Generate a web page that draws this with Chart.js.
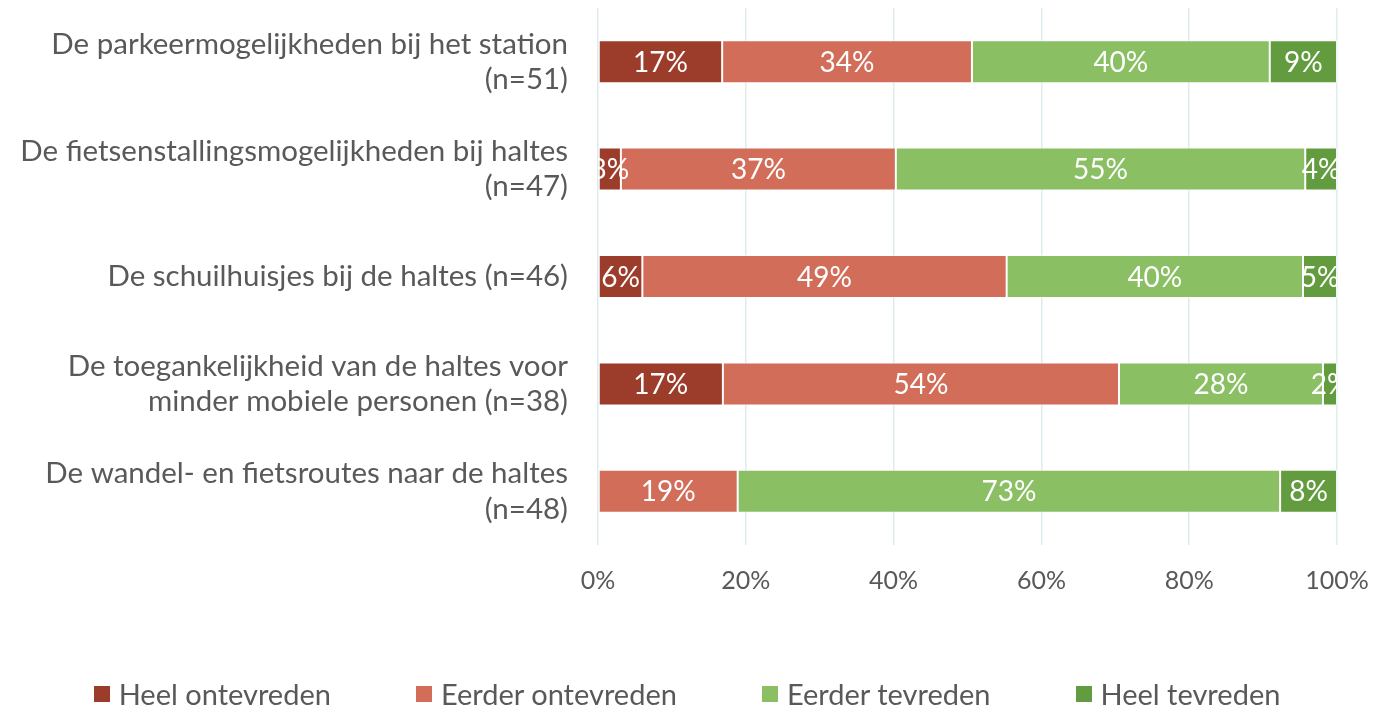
<!DOCTYPE html>
<html lang="nl">
<head>
  <meta charset="UTF-8" />
  <title>Tevredenheid haltes</title>
  <script src="https://cdn.jsdelivr.net/npm/chart.js"></script>
  <style>
    html, body { margin: 0; padding: 0; background: #fff; }
    #wrap { width: 1374px; height: 708px; position: relative; overflow: hidden; }
    #legenda {
      position: absolute;
      left: 0;
      right: 0;
      top: 676px;
      display: flex;
      justify-content: center;
      gap: 85px;
      font-family: Lato, "Open Sans", sans-serif;
      font-size: 29px;
      color: #595959;
      line-height: 36px;
    }
    #legenda span.item { display: flex; align-items: center; }
    #legenda i { display: inline-block; width: 16px; height: 16px; margin-right: 9px; }
  </style>
</head>
<body>
  <div id="wrap">
    <canvas id="grafiek" width="1374" height="708"></canvas>
    <div id="legenda"></div>
  </div>

  <script>
    const categorieen = [
      ['De parkeermogelijkheden bij het station', '(n=51)'],
      ['De fietsenstallingsmogelijkheden bij haltes', '(n=47)'],
      ['De schuilhuisjes bij de haltes (n=46)'],
      ['De toegankelijkheid van de haltes voor', 'minder mobiele personen (n=38)'],
      ['De wandel- en fietsroutes naar de haltes', '(n=48)']
    ];
    const reeksNamen = ['Heel ontevreden', 'Eerder ontevreden', 'Eerder tevreden', 'Heel tevreden'];
    const heelOntevreden   = [16.8, 3.1, 6.0, 16.9, 0];
    const eerderOntevreden = [33.8, 37.2, 49.3, 53.6, 18.9];
    const eerderTevreden   = [40.3, 55.4, 40.1, 27.6, 73.4];
    const heelTevreden     = [9.1, 4.3, 4.6, 1.9, 7.7];
    const asTicks = [0, 20, 40, 60, 80, 100];
    const kleuren = ['#9C3C2B', '#D26D5A', '#8ABF63', '#629C3F'];

    const FONT = 'Lato, "Open Sans", sans-serif';
    const GRIJS = '#595959';

    // witte percentages in de balken, geknipt op het plotgebied
    const labelsPlugin = {
      id: 'balkLabels',
      afterDatasetsDraw(chart) {
        const ctx = chart.ctx;
        const area = chart.chartArea;
        ctx.save();
        ctx.beginPath();
        ctx.rect(area.left, area.top, area.right - area.left, area.bottom - area.top);
        ctx.clip();
        ctx.fillStyle = '#fff';
        ctx.font = '28px ' + FONT;
        ctx.textAlign = 'center';
        ctx.textBaseline = 'middle';
        chart.data.datasets.forEach((ds, i) => {
          const meta = chart.getDatasetMeta(i);
          meta.data.forEach((bar, j) => {
            const v = ds.data[j];
            if (!v) return;
            const x = (bar.x + bar.base) / 2;
            ctx.fillText(Math.round(v) + '%', x, bar.y + 1);
          });
        });
        ctx.restore();
      }
    };

    const reeks = (label, data, kleur) => ({
      label: label,
      data: data,
      backgroundColor: kleur,
      borderColor: 'rgba(255,255,255,0.5)',
      borderWidth: 1,
      borderSkipped: false,
      categoryPercentage: 0.8,
      barPercentage: 0.5
    });

    const grafiek = new Chart(document.getElementById('grafiek'), {
      type: 'bar',
      data: {
        labels: categorieen,
        datasets: [
          reeks(reeksNamen[0], heelOntevreden, kleuren[0]),
          reeks(reeksNamen[1], eerderOntevreden, kleuren[1]),
          reeks(reeksNamen[2], eerderTevreden, kleuren[2]),
          reeks(reeksNamen[3], heelTevreden, kleuren[3])
        ]
      },
      options: {
        indexAxis: 'y',
        responsive: false,
        animation: false,
        devicePixelRatio: 1,
        layout: { padding: { top: 8, right: 37, left: 0, bottom: 109 } },
        scales: {
          x: {
            stacked: true,
            min: 0,
            max: 100,
            afterBuildTicks(axis) {
              axis.ticks = asTicks.map(v => ({ value: v }));
            },
            afterFit(axis) {
              axis.height = 54;
              axis.paddingLeft = 0;
              axis.paddingRight = 0;
            },
            ticks: {
              color: GRIJS,
              font: { family: FONT, size: 25 },
              padding: 21,
              callback: v => v + '%'
            },
            grid: { color: '#DDECEE', lineWidth: 1.5, drawTicks: false },
            border: { display: false }
          },
          y: {
            stacked: true,
            afterFit(axis) {
              axis.width = 598;
              axis.paddingTop = 0;
              axis.paddingBottom = 0;
            },
            ticks: {
              color: GRIJS,
              font: { family: FONT, size: 29.5, lineHeight: 1.2 },
              padding: 22
            },
            grid: { display: false },
            border: { display: false }
          }
        },
        plugins: {
          legend: { display: false },
          tooltip: { enabled: false }
        }
      },
      plugins: [labelsPlugin]
    });

    // legenda onder de grafiek
    const legenda = document.getElementById('legenda');
    grafiek.data.datasets.forEach(ds => {
      const item = document.createElement('span');
      item.className = 'item';
      item.innerHTML = `<i style="background:${ds.backgroundColor}"></i>${ds.label}`;
      legenda.appendChild(item);
    });
  </script>
</body>
</html>
